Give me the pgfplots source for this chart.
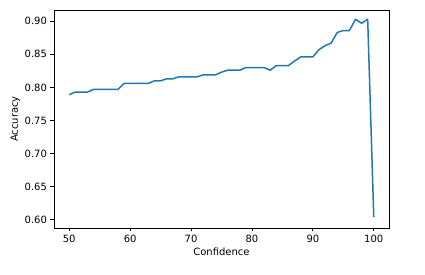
\documentclass[border=0pt]{standalone}
\usepackage{pgfplots}
\pgfplotsset{compat=1.18}
\usepackage{fontspec}
\setmainfont{DejaVu Sans}
\definecolor{mplblue}{HTML}{1F77B4}
\begin{document}
\fontsize{10}{12}\selectfont
\begin{tikzpicture}[x=1pt,y=1pt]
\useasboundingbox (-54,-47) rectangle (371,228);
\begin{axis}[
  at={(0,0)}, anchor=south west,
  scale only axis, width=335pt, height=218pt,
  xmin=47.5, xmax=102.5, ymin=0.5875, ymax=0.9170,
  xtick={50,60,70,80,90,100},
  ytick={0.60,0.65,0.70,0.75,0.80,0.85,0.90},
  yticklabel style={/pgf/number format/.cd,fixed,fixed zerofill,precision=2},
  /pgf/number format/assume math mode=true,
  tick align=outside, tick pos=left,
  major tick length=3.5pt,
  tick style={black, line width=0.8pt},
  axis line style={line width=0.8pt},
  ticklabel style={font=\fontsize{10}{12}\selectfont},
  xlabel={Confidence}, ylabel={Accuracy},
  label style={font=\fontsize{10}{12}\selectfont},
  xlabel style={yshift=2pt},
  ylabel style={yshift=-2pt},
]
\addplot[mplblue, line width=1.5pt, line join=round] coordinates {
(50,0.789)(51,0.793)(52,0.793)(53,0.793)(54,0.797)(55,0.797)(56,0.797)(57,0.797)(58,0.797)
(59,0.806)(60,0.806)(61,0.806)(62,0.806)(63,0.806)(64,0.810)(65,0.810)(66,0.813)(67,0.813)
(68,0.816)(69,0.816)(70,0.816)(71,0.816)(72,0.819)(73,0.819)(74,0.819)(75,0.823)(76,0.826)
(77,0.826)(78,0.826)(79,0.830)(80,0.830)(81,0.830)(82,0.830)(83,0.826)(84,0.833)(85,0.833)
(86,0.833)(87,0.840)(88,0.846)(89,0.846)(90,0.846)(91,0.857)(92,0.863)(93,0.867)(94,0.883)
(95,0.886)(96,0.886)(97,0.903)(98,0.897)(99,0.903)(100,0.604)
};
\end{axis}
\end{tikzpicture}
\end{document}
